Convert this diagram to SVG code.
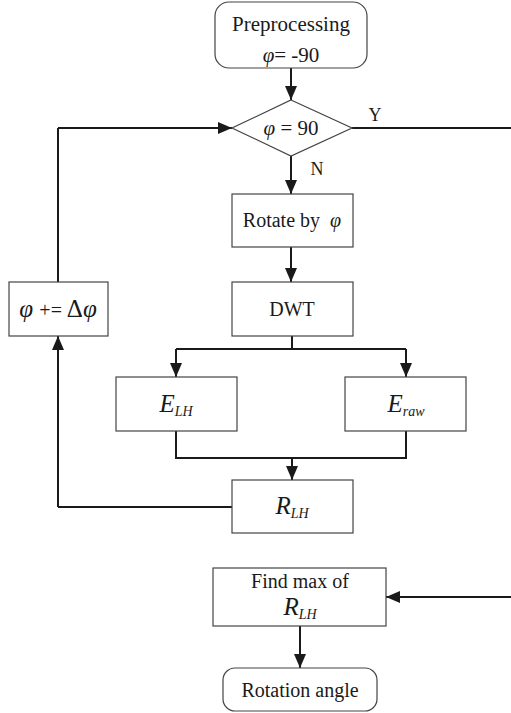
<svg xmlns="http://www.w3.org/2000/svg" width="511" height="713" viewBox="0 0 511 713" font-family="'Liberation Serif', 'DejaVu Serif', serif">
<defs>
<marker id="ah" viewBox="0 0 14 12" refX="14" refY="6" markerWidth="14" markerHeight="12" markerUnits="userSpaceOnUse" orient="auto">
<path d="M0,0 L14,6 L0,12 z" fill="#1a1a1a"/>
</marker>
<style>
.box{fill:#fff;stroke:#444;stroke-width:1.2}
.t{font-family:'Liberation Serif','DejaVu Serif',serif;fill:#1a1a1a;text-anchor:middle}
.i{font-style:italic}
.c{fill:none;stroke:#1a1a1a;stroke-width:2}
.a{fill:none;stroke:#1a1a1a;stroke-width:2;marker-end:url(#ah)}
</style>
</defs>
<rect width="511" height="713" fill="#fff"/>
<g id="connectors">
<path class="a" d="M291,68 V100"/>
<path class="a" d="M291,156 V194"/>
<path class="a" d="M291,247 V282"/>
<path class="c" d="M292,336 V349 M176,349 H406"/>
<path class="a" d="M176,349 V377"/>
<path class="a" d="M406,349 V377"/>
<path class="c" d="M176,431 V458 H406 V431"/>
<path class="a" d="M292,458 V480"/>
<path class="c" d="M232,507 H58"/>
<path class="a" d="M58,507 V336"/>
<path class="c" d="M58,282 V128"/>
<path class="a" d="M58,128 H232"/>
<path class="c" d="M352,128 H511"/>
<path class="a" d="M511,597 H386"/>
<path class="a" d="M300,626 V668"/>
<text class="t" x="375" y="121" font-size="18">Y</text>
<text class="t" x="317" y="175" font-size="18">N</text>
</g>
<g id="preprocessing">
<rect class="box" x="215" y="2" width="152" height="66" rx="14"/>
<text class="t" x="291" y="31" font-size="21">Preprocessing</text>
<text class="t" x="291" y="62" font-size="21"><tspan class="i">φ</tspan>= -90</text>
</g>
<g id="decision">
<polygon class="box" points="291,100 352,128 291,156 232,128"/>
<text class="t" x="291" y="135" font-size="21"><tspan class="i">φ</tspan> = 90</text>
</g>
<g id="rotate">
<rect class="box" x="232" y="194" width="121" height="53"/>
<text class="t" x="292" y="227" font-size="20" xml:space="preserve">Rotate by  <tspan class="i">φ</tspan></text>
</g>
<g id="dwt">
<rect class="box" x="232" y="282" width="121" height="54"/>
<text class="t" x="292" y="316" font-size="20">DWT</text>
</g>
<g id="elh">
<rect class="box" x="116" y="377" width="121" height="54"/>
<text class="t i" x="176" y="412" font-size="25">E<tspan font-size="14" dy="4">LH</tspan></text>
</g>
<g id="eraw">
<rect class="box" x="345" y="377" width="121" height="54"/>
<text class="t i" x="406" y="412" font-size="25">E<tspan font-size="14" dy="4">raw</tspan></text>
</g>
<g id="rlh">
<rect class="box" x="232" y="480" width="121" height="53"/>
<text class="t i" x="292" y="514" font-size="25">R<tspan font-size="14" dy="4">LH</tspan></text>
</g>
<g id="update">
<rect class="box" x="9" y="282" width="99" height="54"/>
<text class="t" x="58" y="317" font-size="25"><tspan class="i">φ</tspan> <tspan font-size="20">+=</tspan> Δ<tspan class="i">φ</tspan></text>
</g>
<g id="findmax">
<rect class="box" x="213" y="568" width="173" height="58"/>
<text class="t" x="300" y="588" font-size="20">Find max of</text>
<text class="t i" x="300" y="615" font-size="25">R<tspan font-size="14" dy="4">LH</tspan></text>
</g>
<g id="rotation-angle">
<rect class="box" x="223" y="668" width="154" height="43" rx="12"/>
<text class="t" x="300" y="697" font-size="20">Rotation angle</text>
</g>
</svg>
